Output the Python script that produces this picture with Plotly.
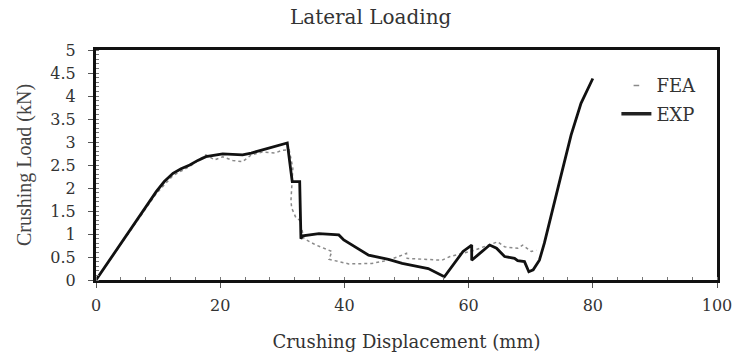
import plotly.graph_objects as go

exp_x = [0, 2, 4.4, 7.05, 9.7, 11, 12.4, 13.7, 15.1, 16.4, 17.7, 20.4, 23.6, 25, 26.8, 28.8, 30.8,
         31.6, 32.8, 33, 33.3, 35.9, 39.1, 39.9, 43.9, 47.1, 49.3, 51.9, 53.5,
         56.1, 57.3, 59.1, 60.5, 60.5, 61.8, 63.4, 64.5, 65.8, 67.4, 67.9, 69, 69.7,
         70.4, 71.4, 72.2, 73.3, 74.9, 76.5, 78.1, 80]
exp_y = [0, 0.4, 0.87, 1.41, 1.92, 2.14, 2.32, 2.42, 2.5, 2.6, 2.68, 2.74, 2.72, 2.76, 2.83, 2.9, 2.98,
         2.14, 2.14, 0.9, 0.96, 1.01, 0.98, 0.87, 0.54, 0.45, 0.36, 0.29, 0.25,
         0.07, 0.29, 0.62, 0.76, 0.43, 0.58, 0.76, 0.69, 0.51, 0.47, 0.42, 0.4, 0.18,
         0.22, 0.43, 0.8, 1.38, 2.28, 3.15, 3.84, 4.38]

fea_x = [0, 4.4, 7.05, 9.7, 12.4, 15.1, 17.7, 19.1, 20.4, 22, 23.6, 25, 26.8, 28.8, 30, 31.1,
         31.7, 31.4, 31.5, 32.2, 32.8, 33.5, 35.4, 38, 37.5, 40.7, 44.4, 47.1, 48.7,
         50, 50.1, 52, 55.7, 57, 58.9, 61, 63.2, 64.7, 65.8, 67.9, 68.7, 70.1, 70.9]
fea_y = [0, 0.84, 1.37, 1.88, 2.27, 2.47, 2.72, 2.61, 2.68, 2.6, 2.57, 2.72, 2.78, 2.76, 2.82, 2.83,
         2.43, 1.74, 1.57, 1.35, 1.3, 0.9, 0.76, 0.62, 0.45, 0.35, 0.36, 0.43, 0.51,
         0.58, 0.47, 0.46, 0.43, 0.51, 0.58, 0.65, 0.76, 0.83, 0.72, 0.69, 0.76, 0.62, 0.65]

wide = "DejaVu Serif, serif"
narrow = "Liberation Serif, Times New Roman, serif"
txt = "#333333"

fig = go.Figure()
fig.add_trace(go.Scatter(x=fea_x, y=fea_y, mode="lines", name="FEA", showlegend=False,
                         line=dict(color="#8a8a8a", width=1.5, dash="dot")))
fig.add_trace(go.Scatter(x=exp_x, y=exp_y, mode="lines", name="EXP", showlegend=False,
                         line=dict(color="#111111", width=2.8)))
# legend entries
fig.add_trace(go.Scatter(x=[None], y=[None], mode="markers", name="FEA", legendgroup="a",
                         marker=dict(symbol="line-ew", size=4, color="#8a8a8a",
                                     line=dict(color="#8a8a8a", width=1.5))))
fig.add_trace(go.Scatter(x=[None], y=[None], mode="lines", name="EXP", legendgroup="b",
                         line=dict(color="#222222", width=3.5)))

fig.update_layout(
    width=734, height=354,
    margin=dict(l=96, r=17, t=50, b=74, autoexpand=False),
    paper_bgcolor="white", plot_bgcolor="white",
    title=dict(text="Lateral Loading", x=0.505, xref="container", xanchor="center",
               y=0.952, yanchor="middle", automargin=False,
               font=dict(family=wide, size=20, color=txt)),
    font=dict(family=wide, color=txt),
    showlegend=True,
    legend=dict(x=0.838, y=0.925, xanchor="left", yanchor="top",
                bgcolor="rgba(0,0,0,0)", font=dict(family=wide, size=18, color=txt),
                tracegroupgap=2, itemwidth=30),
)
fig.update_xaxes(range=[0, 100], dtick=20, tick0=0, automargin=False,
                 showline=True, linecolor="#111111", linewidth=3, mirror=True,
                 ticks="outside", ticklen=5, tickcolor="#555555", ticklabelstandoff=4,
                 ticklabeloverflow="allow",
                 minor=dict(ticks="inside", ticklen=3, dtick=4, tickcolor="#777777"),
                 showgrid=False, zeroline=False,
                 tickfont=dict(family=wide, size=16, color=txt),
                 title=dict(text="Crushing Displacement (mm)", standoff=22,
                            font=dict(family=wide, size=18, color=txt)))
fig.update_yaxes(range=[0, 5], dtick=0.5, tick0=0, automargin=False,
                 showline=True, linecolor="#111111", linewidth=3, mirror=True,
                 ticks="outside", ticklen=5, tickcolor="#555555", ticklabelstandoff=9,
                 ticklabeloverflow="allow",
                 minor=dict(ticks="inside", ticklen=3, dtick=0.1, tickcolor="#777777"),
                 showgrid=False, zeroline=False,
                 tickfont=dict(family=wide, size=16, color=txt),
                 title=dict(text="Crushing Load (kN)", standoff=14,
                            font=dict(family=narrow, size=20, color="#444444")))

fig.write_html("out.html", config={"displayModeBar": False},
               post_script="document.body.style.margin='0px';")
